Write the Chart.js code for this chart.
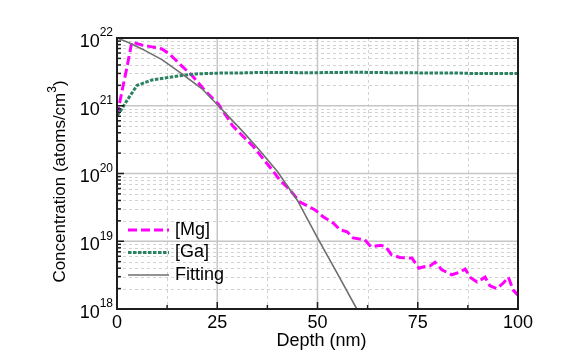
<!DOCTYPE html>
<html>
<head>
<meta charset="utf-8">
<script src="https://cdn.jsdelivr.net/npm/chart.js@4.4.1/dist/chart.umd.min.js"></script>
<style>
html, body { margin: 0; padding: 0; background: #fff; }
</style>
</head>
<body>
<canvas id="chart" width="571" height="364"></canvas>
<script>
// SIMS depth profile
const mgDepth = [0, 1.2, 2.4, 3.7, 6.2, 8.7, 11.2, 13.2, 15.5, 18.7, 22, 25.3, 28.9, 34, 38.6, 40.6, 43.1, 45.6, 49.4, 51.4, 53.9, 55.6, 57.4, 58.9, 61.8, 63.3, 65.8, 67, 68.5, 70.6, 73.6, 75.3, 76.5, 78, 79.3, 81, 83.5, 85.5, 86.8, 88.2, 89.8, 91.8, 93, 94.7, 96.3, 97.6, 98.8, 100];
const mgConc = [7.1e20, 1.6e21, 3.5e21, 8.7e21, 7.9e21, 7.4e21, 6.9e21, 5.75e21, 4.2e21, 2.8e21, 1.66e21, 1.05e21, 5.0e20, 2.5e20, 1.15e20, 8.0e19, 5.75e19, 3.8e19, 2.9e19, 2.3e19, 1.86e19, 1.48e19, 1.38e19, 1.12e19, 1.05e19, 8.3e18, 8.7e18, 8.3e18, 6.3e18, 5.75e18, 5.6e18, 4.0e18, 4.2e18, 4.3e18, 4.9e18, 3.8e18, 3.2e18, 3.5e18, 3.9e18, 2.9e18, 2.5e18, 2.95e18, 2.2e18, 2.0e18, 2.4e18, 2.95e18, 1.9e18, 1.6e18];

const gaDepth = [0, 0.7, 2.5, 5, 8.7, 12.5, 16.2, 19.5, 23, 27, 31, 35.7, 40, 45, 50, 55, 60, 64, 68, 72, 76, 80, 84, 88, 92, 96, 100];
const gaConc = [7.2e20, 8.1e20, 1.2e21, 2.0e21, 2.4e21, 2.6e21, 2.8e21, 2.95e21, 3.0e21, 3.05e21, 3.05e21, 3.1e21, 3.1e21, 3.08e21, 3.08e21, 3.1e21, 3.12e21, 3.1e21, 3.08e21, 3.08e21, 3.05e21, 3.05e21, 3.05e21, 3.0e21, 3.0e21, 3.0e21, 3.0e21];

const fitDepth = [0, 3, 6.2, 11.2, 16.2, 21.2, 25.3, 28.5, 31.4, 35, 40, 45, 50, 55, 59.8];
const fitConc = [1e22, 8.5e21, 6.9e21, 4.8e21, 2.95e21, 1.78e21, 1.0e21, 6.3e20, 4.15e20, 2.4e20, 1.07e20, 4.0e19, 1.12e19, 3.3e18, 1.0e18];

const seriesLabels = ["[Mg]", "[Ga]", "Fitting"];
const xMajorTicks = [0, 25, 50, 75, 100];
const xMinorTicks = [12.5, 37.5, 62.5, 87.5];
const yDecades = [18, 19, 20, 21, 22];
const xTitle = "Depth (nm)";
const yTitle = "Concentration (atoms/cm";

const FONT = "'Liberation Sans', Arial, sans-serif";

const toPoints = (xs, ys) => xs.map((v, i) => ({x: v, y: ys[i]}));

const simsAxes = {
    id: "simsAxes",
    beforeDatasetsDraw(chart) {
        const {ctx, chartArea: a, scales: {x, y}} = chart;
        ctx.save();
        // minor dashed grid
        ctx.strokeStyle = "#d2d2d2";
        ctx.lineWidth = 1;
        ctx.setLineDash([3, 3]);
        xMinorTicks.forEach((v) => {
            const px = Math.round(x.getPixelForValue(v)) + 0.5;
            ctx.beginPath(); ctx.moveTo(px, a.top); ctx.lineTo(px, a.bottom); ctx.stroke();
        });
        yDecades.slice(0, -1).forEach((e) => {
            for (let m = 2; m <= 9; m++) {
                const py = Math.round(y.getPixelForValue(m * Math.pow(10, e))) + 0.5;
                ctx.beginPath(); ctx.moveTo(a.left, py); ctx.lineTo(a.right, py); ctx.stroke();
            }
        });
        // major solid grid
        ctx.setLineDash([]);
        ctx.strokeStyle = "#c6c6c6";
        ctx.lineWidth = 1.5;
        xMajorTicks.slice(1, -1).forEach((v) => {
            const px = x.getPixelForValue(v);
            ctx.beginPath(); ctx.moveTo(px, a.top); ctx.lineTo(px, a.bottom); ctx.stroke();
        });
        yDecades.slice(1, -1).forEach((e) => {
            const py = y.getPixelForValue(Math.pow(10, e));
            ctx.beginPath(); ctx.moveTo(a.left, py); ctx.lineTo(a.right, py); ctx.stroke();
        });
        ctx.restore();
    },
    afterDatasetsDraw(chart) {
        const {ctx, chartArea: a, scales: {x, y}} = chart;
        ctx.save();
        // frame
        ctx.strokeStyle = "#1e1e1e";
        ctx.lineWidth = 2;
        ctx.strokeRect(a.left, a.top, a.right - a.left, a.bottom - a.top);
        // inward ticks
        ctx.lineWidth = 1.5;
        const tickX = (v, len) => {
            const px = x.getPixelForValue(v);
            ctx.beginPath(); ctx.moveTo(px, a.bottom); ctx.lineTo(px, a.bottom - len); ctx.stroke();
        };
        const tickY = (v, len) => {
            const py = y.getPixelForValue(v);
            ctx.beginPath(); ctx.moveTo(a.left, py); ctx.lineTo(a.left + len, py); ctx.stroke();
        };
        xMajorTicks.forEach((v) => tickX(v, 7));
        xMinorTicks.forEach((v) => tickX(v, 4));
        yDecades.forEach((e) => {
            tickY(Math.pow(10, e), 7);
            if (e < 22) {
                for (let m = 2; m <= 9; m++) tickY(m * Math.pow(10, e), 4);
            }
        });

        // tick labels
        ctx.fillStyle = "#000";
        ctx.textBaseline = "middle";
        ctx.textAlign = "center";
        ctx.font = "18px " + FONT;
        xMajorTicks.forEach((v) => ctx.fillText(String(v), x.getPixelForValue(v), a.bottom + 14));

        yDecades.forEach((e) => {
            const py = y.getPixelForValue(Math.pow(10, e));
            const right = a.left - 4;
            ctx.font = "12px " + FONT;
            const expW = ctx.measureText(String(e)).width;
            ctx.textAlign = "left";
            ctx.fillText(String(e), right - expW, py - 5);
            ctx.font = "18px " + FONT;
            ctx.textAlign = "right";
            ctx.fillText("10", right - expW, py + 4);
        });

        // axis titles
        ctx.textAlign = "center";
        ctx.font = "18px " + FONT;
        ctx.fillText(xTitle, (a.left + a.right) / 2 + 4, a.bottom + 32);

        ctx.save();
        ctx.translate(60, (a.top + a.bottom) / 2 + 8);
        ctx.rotate(-Math.PI / 2);
        ctx.font = "17px " + FONT;
        const w1 = ctx.measureText(yTitle).width;
        ctx.font = "12px " + FONT;
        const w2 = ctx.measureText("3").width;
        ctx.font = "17px " + FONT;
        const w3 = ctx.measureText(")").width;
        let sx = -(w1 + w2 + w3) / 2;
        ctx.textAlign = "left";
        ctx.fillText(yTitle, sx, 0);
        ctx.font = "12px " + FONT;
        ctx.fillText("3", sx + w1, -7);
        ctx.font = "17px " + FONT;
        ctx.fillText(")", sx + w1 + w2, 0);
        ctx.restore();

        // legend
        const lx0 = a.left + 11, lx1 = a.left + 52, ly = a.bottom - 79;
        chart.data.datasets.forEach((ds, i) => {
            const yy = ly + i * 22.5;
            ctx.strokeStyle = ds.borderColor;
            ctx.lineWidth = ds.borderWidth;
            ctx.setLineDash(ds.borderDash || []);
            ctx.beginPath(); ctx.moveTo(lx0, yy); ctx.lineTo(lx1, yy); ctx.stroke();
            ctx.setLineDash([]);
            ctx.fillStyle = "#000";
            ctx.textAlign = "left";
            ctx.font = "18px " + FONT;
            ctx.fillText(ds.label, lx1 + 6, yy);
        });
        ctx.restore();
    }
};

new Chart(document.getElementById("chart"), {
    type: "line",
    data: {
        datasets: [
            {
                label: seriesLabels[0],
                data: toPoints(mgDepth, mgConc),
                borderColor: "#ff00ff",
                borderWidth: 3,
                borderDash: [9, 4],
                pointRadius: 0,
                tension: 0,
                order: 2
            },
            {
                label: seriesLabels[1],
                data: toPoints(gaDepth, gaConc),
                borderColor: "#2b8362",
                borderWidth: 3,
                borderDash: [3.5, 1.5],
                pointRadius: 0,
                tension: 0,
                order: 1
            },
            {
                label: seriesLabels[2],
                data: toPoints(fitDepth, fitConc),
                borderColor: "#6f6f6f",
                borderWidth: 1.6,
                pointRadius: 0,
                tension: 0,
                order: 0
            }
        ]
    },
    options: {
        responsive: false,
        animation: false,
        devicePixelRatio: 1,
        layout: {padding: {left: 117, right: 53, top: 38, bottom: 55}},
        plugins: {legend: {display: false}, tooltip: {enabled: false}},
        scales: {
            x: {type: "linear", min: 0, max: 100, display: false},
            y: {type: "logarithmic", min: 1e18, max: 1e22, display: false}
        }
    },
    plugins: [simsAxes]
});
</script>
</body>
</html>
